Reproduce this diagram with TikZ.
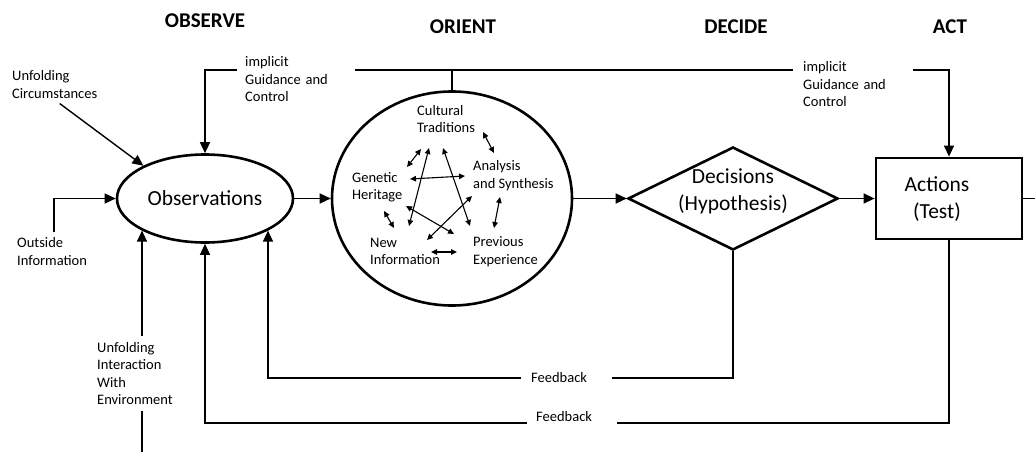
\documentclass[tikz,border=0pt]{standalone}
\usepackage{fontspec}
\setmainfont{Carlito}
\usetikzlibrary{arrows.meta,shapes.geometric}

\begin{document}
\begin{tikzpicture}[x=1pt,y=-1pt,
  title/.style={font=\fontsize{21}{25}\selectfont\bfseries, inner sep=0pt},
  small/.style={font=\fontsize{14.5}{17.5}\selectfont, align=left, inner sep=0pt},
  big/.style={font=\fontsize{21.5}{27.5}\selectfont, align=center, inner sep=0pt},
  conn/.style={line width=1.4pt},
  arr/.style={conn, -{Triangle[length=11pt,width=10pt]}},
  dbl/.style={line width=1.1pt, {Triangle[length=6pt,width=5.5pt]}-{Triangle[length=6pt,width=5.5pt]}},
  thickshape/.style={draw, line width=2.6pt},
]
\useasboundingbox (0,0) rectangle (1035,452);

% phase headings
\node[title] (tobs) at (205,21) {OBSERVE};
\node[title] (tori) at (463,27) {ORIENT};
\node[title] (tdec) at (736,27) {DECIDE};
\node[title] (tact) at (950,27) {ACT};

% main loop shapes
\node[big, ellipse, thickshape, minimum width=176pt, minimum height=88pt] (obs) at (205,198.5) {Observations};
\node[ellipse, thickshape, minimum width=240pt, minimum height=214pt, inner sep=0pt] (ori) at (452,198.5) {};
\node[diamond, thickshape, aspect=2.04, minimum width=210pt, minimum height=103pt, inner sep=0pt] (dec) at (733,198.5) {};
\node[big] (dect) at (733,191.5) {Decisions\\(Hypothesis)};
\node[rectangle, draw, line width=2.8pt, minimum width=146pt, minimum height=81pt, inner sep=0pt] (act) at (949,198.5) {};
\node[big] (actt) at (937,199) {Actions\\(Test)};

% orient contents
\node[small, anchor=west] (ct) at (417,119) {Cultural\\Traditions};
\node[small, anchor=west] (as) at (473,175.5) {Analysis\\and Synthesis};
\node[small, anchor=west] (gh) at (352,187) {Genetic\\Heritage};
\node[small, anchor=west] (ni) at (370,251.5) {New\\Information};
\node[small, anchor=west] (pe) at (473,251.5) {Previous\\Experience};

\draw[dbl] (483,132) -- (494,153);
\draw[dbl] (407,167) -- (421,149);
\draw[dbl] (410,179) -- (465,176);
\draw[dbl] (409,226) -- (429,148);
\draw[dbl] (443,148) -- (470,226);
\draw[dbl] (406,206) -- (454,234);
\draw[dbl] (427,240) -- (472,196);
\draw[dbl] (500,197) -- (494,228);
\draw[dbl] (384,211) -- (394,228);
\draw[dbl] (431,252) -- (457,252);

% side labels
\node[small, anchor=west, inner ysep=5pt] (uc) at (12,84.5) {Unfolding\\Circumstances};
\node[small, anchor=west, inner ysep=5pt] (oi) at (17,251.5) {Outside\\Information};
\node[small, anchor=west, inner ysep=6pt] (ui) at (97,373.5) {Unfolding\\Interaction\\With\\Environment};
\node[small, anchor=west, inner xsep=8pt, text width=102pt] (gl) at (237,79.5) {implicit\\Guidance and\\Control};
\node[small, anchor=west, inner xsep=10pt, text width=100pt] (gr) at (793,84.5) {implicit\\Guidance and\\Control};
\node[small, anchor=west, inner xsep=10pt, text width=71pt] (fb1) at (521,378) {Feedback};
\node[small, anchor=west, inner xsep=9pt, text width=72pt] (fb2) at (527,417) {Feedback};

\coordinate (gy) at (0,70);
\coordinate (fy2) at (0,423);
\coordinate (uibot) at (obs.207.5 |- 0,452);
\coordinate (rt) at (1035,198.5);

% forward flow
\draw[arr] (obs.east) -- (ori.west);
\draw[arr] (ori.east) -- (dec.west);
\draw[arr] (dec.east) -- (act.west);
\draw[conn] (act.east) -- (rt);

% implicit guidance and control
\draw[conn] (ori.north) -- (ori.north |- gy);
\draw[arr] (gl.west |- gy) -| (obs.north);
\draw[conn] (gl.east |- gy) -- (gr.west |- gy);
\draw[arr] (gr.east |- gy) -| (act.north);

% inputs to observations
\draw[arr] ([xshift=5pt]uc.south) -- (obs.152);
\draw[arr] ([xshift=2pt]oi.north) |- (obs.west);
\draw[conn] (uibot) -- (uibot |- ui.south);
\draw[arr] (uibot |- ui.north) -- (obs.207.5);

% feedback loops
\draw[conn] (dec.south) |- (fb1.east);
\draw[arr] (fb1.west) -| (obs.-27.5);
\draw[conn] (act.south) |- (fb2.east |- fy2);
\draw[arr] (fb2.west |- fy2) -| (obs.south);
\end{tikzpicture}
\end{document}
